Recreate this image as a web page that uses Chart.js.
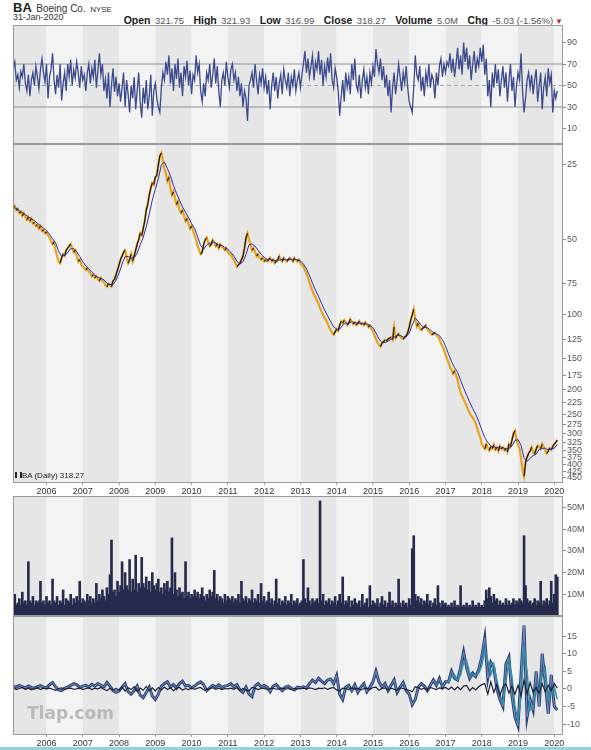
<!DOCTYPE html>
<html>
<head>
<meta charset="utf-8">
<script src="https://cdn.jsdelivr.net/npm/chart.js@4.4.0/dist/chart.umd.min.js"></script>
<style>
  html, body { margin: 0; padding: 0; background: #fff; }
  body { width: 591px; height: 750px; position: relative; overflow: hidden;
         font-family: "Liberation Sans", Arial, sans-serif; }
  canvas { position: absolute; left: 0; }
  .txt { position: absolute; white-space: nowrap; color: #222; }
  .quote b { color: #1b1b1b; font-size: 10.5px; }
  .quote span { color: #555; font-size: 9.5px; margin-right: 5px; }
</style>
</head>
<body>

<div class="txt" style="left:13px;top:0px;line-height:14px">
  <b style="font-size:13px">BA</b>
  <span style="font-size:10px;color:#333">Boeing Co.</span>
  <span style="font-size:8px;color:#333">NYSE</span>
</div>
<div class="txt" style="left:13px;top:12px;font-size:9px;color:#333">31-Jan-2020</div>
<div class="txt quote" style="right:28px;top:10px">
  <b>Open</b> <span>321.75</span>
  <b>High</b> <span>321.93</span>
  <b>Low</b> <span>316.99</span>
  <b>Close</b> <span>318.27</span>
  <b>Volume</b> <span>5.0M</span>
  <b>Chg</b> <span style="margin-right:2px">-5.03 (-1.56%)</span><b style="color:#c4232b;font-size:8px">&#9660;</b>
</div>

<canvas id="rsi" width="591" height="119" style="top:25px"></canvas>
<canvas id="price" width="591" height="351" style="top:144px"></canvas>
<canvas id="volume" width="591" height="120" style="top:496px"></canvas>
<canvas id="macd" width="591" height="133" style="top:616px"></canvas>

<div class="txt" style="left:15px;top:471px;font-size:8px;color:#222">
  <span style="display:inline-block;width:7px;height:6px;border-left:2px solid #222;border-right:2px solid #222;box-sizing:border-box"></span>BA (Daily) 318.27
</div>
<div class="txt" style="left:27px;top:703px;font-family:'DejaVu Sans',sans-serif;font-weight:bold;font-size:17px;color:#b9b9b9">Tlap.com</div>
<div style="position:absolute;left:0;top:747px;width:591px;height:3px;background:#93d3de"></div>

<script>
// ---- time axis ----
const X_MIN = 2005.076;
const X_MAX = 2020.24;
const SERIES_START = 2005.083;          // 31-Jan-2005
const yearTicks = [2006, 2007, 2008, 2009, 2010, 2011, 2012, 2013, 2014, 2015, 2016, 2017, 2018, 2019, 2020];

// ---- semi-monthly closes (one row per Feb..Jan year) ----
const closes = [
  37, 36.5, 38, 37.5, 39, 38.5, 40, 39, 40.5, 41.5, 40.5, 42, 41, 43, 42.5, 44, 43.5, 45, 44, 46, 45.5, 47, 46.5, 48,
  49, 50.5, 52, 51, 55, 58, 61, 62, 59, 57, 58, 55, 54, 53, 52, 54, 56, 55, 58, 61, 60, 63, 64, 65,
  66, 65, 67, 68, 70, 69, 71, 70, 72, 73, 71, 73, 74, 76, 77, 75, 76, 77, 73, 72, 69, 66, 63, 60,
  58, 56, 55, 59, 62, 60, 57, 61, 58, 55, 52, 50, 47, 48, 45, 42, 38, 36, 33, 31, 29.5, 30, 28, 27.5,
  25, 23, 22.4, 24, 26, 27, 29, 28, 31, 33, 32, 34, 36, 35, 38, 39, 38, 40, 42, 41, 43, 45, 44, 46,
  48, 50, 53, 55, 57, 56, 52, 50, 49, 51, 53, 52, 50, 51, 53, 52, 54, 52, 53, 54, 55, 54, 56, 57,
  57, 59, 60, 62, 64, 63, 62, 60, 58, 54, 49, 47, 50, 52, 55, 54, 56, 58, 57, 59, 60, 59, 61, 60,
  61, 60, 59, 61, 60, 62, 61, 60, 58, 60, 61, 59, 60, 61, 60, 59, 60, 61, 59, 60, 61, 60, 62, 63,
  64, 66, 68, 71, 74, 77, 80, 83, 85, 88, 90, 94, 97, 100, 103, 105, 108, 112, 115, 118, 120, 117, 114, 116,
  110, 106, 108, 105, 107, 110, 108, 104, 106, 109, 107, 110, 108, 106, 109, 108, 110, 107, 109, 112, 110, 114, 116, 121,
  125, 129, 132, 134, 130, 128, 126, 127, 125, 124, 123, 126, 112, 124, 121, 119, 122, 124, 125, 123, 121, 118, 112, 105,
  100, 95, 104, 111, 108, 114, 115, 113, 112, 110, 114, 116, 118, 120, 119, 118, 121, 122, 125, 130, 134, 138, 144, 150,
  155, 162, 166, 172, 168, 175, 182, 195, 205, 212, 218, 225, 232, 240, 248, 254, 258, 265, 272, 285, 298, 310, 330, 338,
  345, 330, 342, 350, 338, 344, 332, 348, 340, 352, 336, 345, 340, 350, 345, 355, 330, 338, 318, 300, 292, 318, 330, 345,
  375, 420, 445, 390, 372, 360, 352, 340, 355, 362, 346, 335, 338, 345, 330, 340, 350, 360, 352, 342, 348, 338, 330, 325,
  318
];

// ---- monthly moving average ----
const movingAvg = [
  37.2, 37.3, 38.1, 38.8, 39.6, 40.4, 41.1, 41.8, 42.9, 43.8, 44.8, 45.9,
  47.4, 49.5, 51.3, 55.5, 58.3, 57.7, 56.3, 54.2, 54.2, 55.6, 58.3, 61.2,
  63.7, 65.2, 67.4, 69.2, 70.5, 71.5, 72.3, 74.6, 75.5, 75.6, 72.6, 68,
  62.6, 58.2, 58.3, 59.3, 59.1, 56.5, 52.3, 48.8, 44.3, 39.3, 34.6, 31.3,
  28.4, 25, 24.3, 25.9, 27.6, 30.2, 32.5, 34.6, 36.9, 38.7, 40.7, 43,
  45, 48.6, 52.7, 54.5, 52.4, 51.5, 51.3, 51.4, 52.5, 52.7, 53.5, 54.5,
  56.1, 58.1, 61, 62.5, 61.2, 57.1, 52.3, 51.9, 53, 55, 57.1, 58.7,
  59.8, 60, 60, 60.7, 60.3, 59.8, 60, 60.1, 59.8, 60, 60, 60.7,
  62.5, 65.2, 69.5, 74.5, 79.6, 84.3, 89.8, 95.5, 100.9, 106.3, 111.8, 114,
  114.1, 110, 107.8, 107.9, 106.7, 107.4, 108.1, 107.8, 108.7, 108.8, 110.1, 112.6,
  118.3, 124.8, 129.5, 129, 127.5, 125.5, 122.9, 121, 120.8, 122.8, 122.7, 118.5,
  109.8, 102.8, 106.3, 110.1, 112.4, 112.5, 115, 117.5, 118.9, 121.1, 125.8, 133.3,
  143.3, 154, 162.8, 170, 183, 196.8, 210, 224, 237.6, 250.5, 267.5, 289.3,
  311, 324.5, 336.6, 339, 341, 342.3, 341.6, 344.5, 344.1, 335.8, 319, 316.6,
  334, 376, 388, 376, 367, 362, 347, 344, 342.5, 348, 346, 343.3,
  331
];

// ---- semi-monthly RSI ----
const rsi = [
  66, 72, 55, 60, 48, 63, 58, 70, 52, 45, 60, 40, 55, 62, 50, 68, 58, 47, 65, 75, 62, 53, 70, 38,
  58, 65, 80, 55, 42, 60, 48, 70, 36, 52, 62, 45, 70, 58, 74, 50, 65, 57, 72, 62, 48, 68, 55, 60,
  45, 62, 70, 52, 66, 58, 74, 48, 64, 80, 60, 70, 45, 56, 38, 62, 30, 50, 66, 44, 58, 40, 52, 35,
  48, 62, 30, 55, 42, 25, 50, 38, 58, 28, 45, 62, 35, 20, 48, 33, 55, 28, 40, 60, 22, 45, 52, 38,
  30, 25, 48, 62, 55, 72, 60, 78, 52, 66, 45, 70, 56, 75, 48, 62, 40, 68, 58, 73, 50, 64, 42, 60,
  55, 78, 62, 70, 45, 35, 52, 40, 62, 55, 70, 48, 60, 75, 52, 68, 45, 30, 55, 62, 50, 72, 58, 48,
  65, 70, 55, 62, 45, 58, 40, 52, 30, 45, 38, 17, 50, 55, 62, 48, 70, 55, 42, 60, 52, 66, 48, 58,
  42, 55, 28, 50, 62, 45, 58, 38, 52, 60, 42, 65, 55, 48, 62, 40, 58, 50, 65, 45, 55, 62, 48, 60,
  70, 82, 62, 75, 58, 68, 78, 55, 72, 65, 82, 60, 74, 50, 68, 58, 76, 62, 80, 55, 48, 66, 58, 45,
  22, 40, 55, 35, 62, 48, 58, 42, 70, 55, 75, 50, 45, 60, 38, 55, 65, 48, 58, 42, 62, 52, 68, 58,
  84, 70, 62, 75, 55, 68, 48, 60, 40, 55, 25, 48, 62, 42, 55, 70, 58, 45, 62, 52, 68, 48, 35, 30,
  25, 48, 78, 60, 55, 68, 45, 58, 40, 62, 52, 70, 48, 60, 55, 38, 62, 50, 68, 75, 58, 70, 62, 72,
  68, 80, 62, 75, 58, 70, 85, 65, 78, 60, 90, 72, 85, 65, 78, 55, 70, 82, 62, 75, 68, 85, 72, 88,
  60, 75, 40, 55, 30, 62, 48, 70, 52, 65, 40, 55, 68, 48, 62, 35, 55, 70, 45, 58, 30, 50, 62, 55,
  80, 45, 25, 38, 55, 62, 48, 60, 42, 55, 65, 35, 50, 62, 28, 48, 58, 40, 66, 52, 60, 25, 45, 38,
  45
];
const rsiLevels = [70, 50, 30];
const rsiTicks = [10, 30, 50, 70, 90];

// ---- semi-monthly volume, millions ----
const volume = [
  7, 10, 5, 6, 8, 5, 11, 6, 7, 5, 25, 7, 6, 9, 5, 7, 6, 7, 16, 6, 7, 5, 9, 6,
  7, 5, 17, 7, 6, 9, 5, 7, 6, 12, 5, 8, 7, 6, 10, 5, 8, 6, 9, 7, 16, 6, 8, 7,
  6, 10, 7, 9, 6, 8, 6, 15, 7, 10, 8, 12, 9, 7, 13, 10, 19, 35, 11, 12, 9, 16, 11, 14,
  25, 12, 20, 14, 12, 26, 11, 17, 12, 28, 11, 15, 13, 27, 15, 13, 18, 12, 16, 11, 20, 14, 12, 15,
  17, 11, 13, 10, 15, 12, 16, 11, 13, 36, 10, 20, 12, 9, 13, 10, 11, 8, 25, 9, 11, 8, 10, 9,
  12, 9, 11, 8, 10, 13, 9, 7, 10, 8, 12, 9, 11, 21, 8, 10, 7, 9, 8, 6, 10, 7, 9, 8,
  7, 9, 6, 8, 7, 10, 6, 16, 8, 7, 9, 6, 8, 7, 12, 6, 8, 7, 10, 6, 15, 7, 9, 6,
  7, 11, 6, 8, 5, 7, 17, 6, 8, 5, 7, 6, 9, 5, 7, 6, 10, 5, 7, 6, 8, 5, 6, 7,
  26, 8, 6, 13, 7, 5, 8, 6, 7, 8, 6, 53, 7, 10, 5, 7, 6, 8, 5, 7, 6, 9, 5, 7,
  10, 6, 18, 5, 7, 6, 9, 4, 7, 5, 8, 6, 5, 7, 4, 10, 5, 6, 8, 4, 14, 5, 7, 6,
  5, 8, 4, 6, 9, 5, 7, 4, 6, 11, 5, 7, 4, 6, 5, 17, 6, 4, 7, 5, 6, 4, 8, 5,
  31, 37, 10, 7, 9, 6, 8, 5, 7, 6, 10, 5, 7, 4, 6, 8, 5, 14, 6, 4, 7, 5, 6, 4,
  5, 4, 6, 4, 7, 4, 5, 4, 14, 4, 5, 4, 6, 4, 5, 4, 7, 4, 5, 4, 6, 4, 5, 4,
  7, 12, 8, 13, 9, 6, 10, 7, 8, 5, 7, 5, 6, 5, 8, 5, 7, 5, 6, 8, 5, 7, 6, 8,
  7, 6, 37, 14, 8, 6, 7, 5, 6, 8, 5, 7, 6, 16, 5, 7, 6, 8, 5, 7, 16, 6, 10, 19,
  18
];
const volumeTicks = [10, 20, 30, 40, 50];

// ---- monthly oscillator panel ----
const oscMain = [
  0.8, 0.5, 1.0, 0.6, 0.3, 0.8, 0.4, 0.2, 0.6, 0.9, 0.5, 0.3,
  1.2, 1.8, 0.6, -0.3, -0.5, 0.2, 0.5, 1.0, 1.5, 1.2, 0.4, 0.8,
  1.0, 0.5, 1.3, 0.8, 1.5, 1.0, 0.6, 1.8, 0.8, -0.5, -1.0, -0.6,
  0.5, 1.5, -0.8, -1.5, -0.5, 0.8, -1.8, -2.5, -1.0, 0.5, -2.0, -3.0,
  -1.5, 0.8, 1.5, 2.0, 0.5, 1.2, 0.2, 1.5, 2.2, 0.8, 1.0, 0.3,
  0.8, 1.5, 2.0, 1.2, -0.5, 0.3, 1.0, 0.5, 1.2, 0.4, 0.8, 1.0,
  1.5, 0.6, 1.2, -0.3, -1.0, 0.5, -1.5, -2.2, 0.8, 1.5, 0.6, 1.0,
  0.5, -0.8, 0.8, 1.2, 0.3, -0.5, 0.5, 0.8, 0.2, -0.3, 0.5, 0.3,
  0.6, 0.2, 1.5, 2.5, 1.8, 3.0, 2.2, 1.5, 2.5, 2.8, 1.5, 3.8,
  -1.5, -3.0, 0.5, 1.0, -0.5, 1.2, -1.0, 0.5, 1.5, -0.8, 0.5, 2.0,
  5.0, 2.0, 0.5, 1.5, -0.5, 1.0, 2.5, -1.0, 0.5, 1.8, -0.5, -1.5,
  -4.5, -3.0, 0.5, 1.5, 0.8, -0.5, 1.0, 2.5, 1.0, 3.0, 0.5, 2.0,
  2.0, 5.0, 3.0, 2.5, 6.0, 10.5, 6.0, 3.0, 4.5, 3.5, 5.5, 9.0,
  14.5, 3, 7.5, 6, 0, -3, -5, 7, 9, -2, -8, -10.5,
  4, 18, -8, -3, -6, 5, -5, 10, 2, -7, 4, -5,
  -6
];
const oscBase = [
  0.3, -0.2, 0.1, 0.4, -0.1, 0.2, -0.3, 0.1, 0.3, -0.2, 0.2, 0.0,
  0.2, -0.1, -0.4, 0.1, 0.3, -0.2, 0.1, 0.2, -0.1, 0.0, 0.3, -0.2,
  0.1, 0.3, -0.2, 0.2, 0.0, 0.4, -0.1, -0.5, 0.2, -0.3, 0.1, -0.4,
  0.5, -0.6, 0.3, -0.2, 0.6, -0.8, 0.2, -0.4, 0.7, -0.5, 0.3, -0.6,
  0.4, -0.3, 0.5, -0.2, 0.3, -0.5, 0.2, 0.4, -0.3, 0.1, -0.2, 0.3,
  -0.1, 0.2, 0.4, -0.3, -0.2, 0.1, 0.3, -0.1, 0.2, -0.2, 0.1, 0.0,
  0.2, -0.1, 0.3, -0.4, 0.1, -0.3, -0.6, 0.4, 0.2, -0.2, 0.1, 0.2,
  -0.2, 0.1, 0.2, -0.1, 0.0, 0.2, -0.1, 0.1, -0.2, 0.1, 0.0, 0.1,
  0.2, 0.0, 0.3, 0.1, -0.2, 0.2, 0.1, 0.3, -0.1, 0.2, 0.4, -0.3,
  -0.6, 0.2, 0.1, -0.2, 0.3, -0.1, 0.2, -0.3, 0.1, 0.2, -0.2, 0.4,
  0.5, -0.4, 0.1, 0.3, -0.3, 0.2, -0.1, -0.5, 0.3, 0.1, -0.2, -0.4,
  -0.8, 0.6, 0.3, -0.1, 0.2, -0.3, 0.4, 0.1, -0.2, 0.3, 0.1, 0.4,
  -0.2, 0.5, -0.3, 0.6, -0.2, 0.8, 1.0, -0.5, 0.4, -0.3, 0.6, 1.2,
  1.5, -1.5, 2.0, -1.0, 1.2, -1.8, 0.5, 1.5, -1.2, 0.8, -1.5, 1.0,
  -2.0, 2.5, -1.5, 1.8, -1.0, 0.5, -1.2, 1.5, -0.8, 1.0, -0.5, 1.5,
  0.2
];
// signal line, only from Feb 2017
const SIGNAL_START = 2017.083;
const oscSignal = [
  1.5, 3.5, 4.0, 2.5, 4.0, 7.5, 8.0, 4.5, 3.5, 4.0, 4.5, 6.5,
  11.0, 8.0, 4.0, 7.0, 2.5, -1.5, -4.0, 2.0, 8.0, 3.5, -5.0, -9.0,
  -2.0, 12.0, 5.0, -6.0, -4.5, 1.0, -1.0, 4.0, 6.0, -3.0, -1.0, 0.5,
  -3
];
const oscTicks = [-10, -5, 0, 5, 10, 15];

// ---- helpers ----
const FONT = '"Liberation Sans", Arial, sans-serif';
const points = (vals, start, perYear) => vals.map((v, i) => ({ x: start + i / perYear, y: v }));
const flat = (level) => [{ x: X_MIN, y: level }, { x: X_MAX, y: level }];

const panelPlugin = {
  id: 'panelFrame',
  beforeDraw(chart) {
    const { ctx, chartArea: a, scales: { x } } = chart;
    ctx.save();
    ctx.beginPath();
    ctx.rect(a.left, a.top, a.right - a.left, a.bottom - a.top);
    ctx.clip();
    for (let yr = 2005; yr <= 2020; yr++) {
      const x0 = x.getPixelForValue(yr), x1 = x.getPixelForValue(yr + 1);
      ctx.fillStyle = yr % 2 ? '#e6e6e6' : '#f3f3f3';
      ctx.fillRect(x0, a.top, x1 - x0, a.bottom - a.top);
    }
    ctx.restore();
  },
  afterDatasetsDraw(chart) {
    const { ctx, chartArea: a } = chart;
    ctx.save();
    ctx.strokeStyle = '#9a9a9a';
    ctx.lineWidth = 1;
    ctx.strokeRect(a.left + 0.5, a.top + 0.5, a.right - a.left - 1, a.bottom - a.top - 1);
    ctx.restore();
  }
};

// the panels are stacked edge to edge, so the scales must not reserve room
// for labels that would hang over the plot edge
function noPad(s) {
  s.paddingTop = 0; s.paddingBottom = 0; s.paddingLeft = 0; s.paddingRight = 0;
}

function xScale(show, height) {
  return {
    type: 'linear', min: X_MIN, max: X_MAX, offset: false, display: show,
    afterBuildTicks: s => { s.ticks = yearTicks.map(v => ({ value: v })); },
    afterFit: s => { s.height = height; noPad(s); },
    border: { display: false },
    grid: { drawOnChartArea: false, drawTicks: true, tickLength: 2, color: '#999', offset: false },
    ticks: { padding: 1, color: '#333', font: { family: FONT, size: 9 }, maxRotation: 0, autoSkip: false,
             callback: v => String(v) }
  };
}

function yScale(opts, tickValues, fmt) {
  return Object.assign({
    position: 'right',
    afterFit: s => { s.width = 28; noPad(s); },
    afterBuildTicks: s => { s.ticks = tickValues.map(v => ({ value: v })); },
    border: { display: false },
    grid: { drawOnChartArea: false, drawTicks: true, tickLength: 3, color: '#8a8a8a' },
    ticks: { padding: 1, color: '#555', font: { family: FONT, size: 9 }, autoSkip: false,
             callback: fmt || (v => String(v)) }
  }, opts);
}

function baseOptions(xs, ys) {
  return {
    responsive: false,
    animation: false,
    events: [],
    layout: { autoPadding: false, padding: { left: 13, right: 0, top: 0, bottom: 0 } },
    plugins: { legend: { display: false }, tooltip: { enabled: false } },
    elements: { point: { radius: 0 }, line: { tension: 0 } },
    scales: { x: xs, y: ys }
  };
}

// ---- RSI panel ----
new Chart(document.getElementById('rsi'), {
  type: 'line',
  data: {
    datasets: [
      { data: points(rsi, SERIES_START, 24), borderColor: '#3b4a8c', borderWidth: 1.3 },
      { data: flat(rsiLevels[0]), borderColor: '#8b9098', borderWidth: 1 },
      { data: flat(rsiLevels[1]), borderColor: '#a3a7ad', borderWidth: 1, borderDash: [4, 3] },
      { data: flat(rsiLevels[2]), borderColor: '#8b9098', borderWidth: 1 }
    ]
  },
  options: baseOptions(xScale(false, 0), yScale({ type: 'linear', min: -4.4, max: 106.3 }, rsiTicks)),
  plugins: [panelPlugin]
});

// ---- price panel (inverted log axis, as in the reference) ----
const priceTicks = [25, 50, 75, 100, 125, 150, 175, 200, 225, 250, 275, 300, 325, 350, 375, 400, 425, 450];
new Chart(document.getElementById('price'), {
  type: 'line',
  data: {
    datasets: [
      { data: points(movingAvg, SERIES_START, 12), borderColor: '#2a30b4', borderWidth: 1 },
      { data: points(closes, SERIES_START, 24), borderWidth: 1.2, borderColor: '#151515',
        segment: { borderColor: c => (c.p1.parsed.y < c.p0.parsed.y ? '#151515' : 'rgba(0,0,0,0)') } },
      { data: points(closes, SERIES_START, 24), borderColor: '#e8a31c', borderWidth: 2.2 }
    ]
  },
  options: baseOptions(xScale(true, 12),
    yScale({ type: 'logarithmic', min: 20.6, max: 473, reverse: true }, priceTicks)),
  plugins: [panelPlugin]
});

// ---- volume panel ----
new Chart(document.getElementById('volume'), {
  type: 'bar',
  data: {
    datasets: [
      { data: points(volume, SERIES_START, 24), backgroundColor: '#262b4d', barThickness: 2,
        borderWidth: 0 }
    ]
  },
  options: baseOptions(xScale(false, 0),
    yScale({ type: 'linear', min: 0, max: 55.3 }, volumeTicks, v => v + 'M')),
  plugins: [panelPlugin]
});

// ---- oscillator panel ----
new Chart(document.getElementById('macd'), {
  type: 'line',
  data: {
    datasets: [
      { data: points(oscBase, SERIES_START, 12), borderColor: '#1b203a', borderWidth: 1.2 },
      { data: points(oscSignal, SIGNAL_START, 12), borderColor: '#2f91a5', borderWidth: 1.5 },
      { data: points(oscMain, SERIES_START, 12), borderColor: '#6f90c4', borderWidth: 1 },
      { data: points(oscMain, SERIES_START, 12), borderColor: '#2d4272', borderWidth: 3 }
    ]
  },
  options: baseOptions(xScale(true, 14), yScale({ type: 'linear', min: -13.1, max: 20.7 }, oscTicks)),
  plugins: [panelPlugin]
});
</script>
</body>
</html>
